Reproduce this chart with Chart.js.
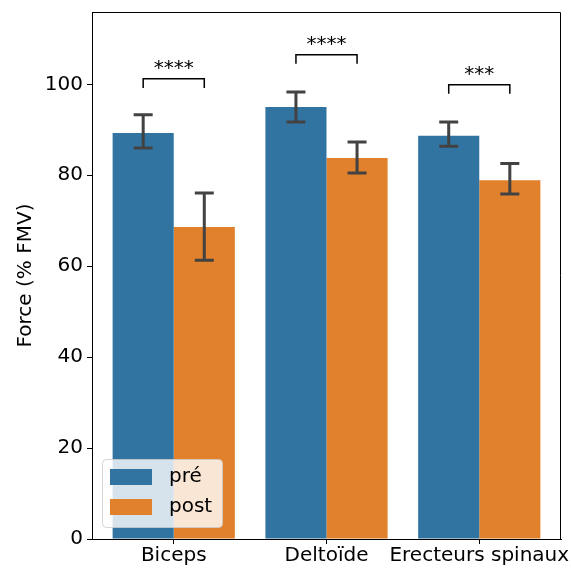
<!DOCTYPE html>
<html>
<head>
<meta charset="utf-8">
<script src="https://cdn.jsdelivr.net/npm/chart.js@4/dist/chart.umd.min.js"></script>
<style>
  body { margin: 0; background: #fff; }
  #wrap { width: 571px; height: 568px; }
</style>
</head>
<body>
<div id="wrap"><canvas id="chart" width="571" height="568"></canvas></div>
<script>
const categories = ["Biceps", "Deltoïde", "Erecteurs spinaux"];
const preMean = [89.3, 95.0, 88.7];
const preLow = [86.0, 91.7, 86.4];
const preHigh = [93.3, 98.3, 91.7];
const postMean = [68.6, 83.8, 78.9];
const postLow = [61.3, 80.5, 75.9];
const postHigh = [76.1, 87.3, 82.6];
const sigLabels = ["****", "****", "***"];
const sigY = [101.2, 106.5, 99.9];
const yTicks = [0, 20, 40, 60, 80, 100];

const FONT = "DejaVu Sans";
const BLUE = "#3274a1";
const ORANGE = "#e1812c";

// barres d'erreur, crochets de significativité, cadre et légende
const overlay = {
  id: "overlay",
  afterDatasetsDraw(chart) {
    const ctx = chart.ctx;
    const xs = chart.scales.x;
    const ys = chart.scales.y;
    const area = chart.chartArea;
    ctx.save();

    // barres d'erreur
    ctx.strokeStyle = "#424242";
    ctx.lineWidth = 3;
    [[preLow, preHigh, -0.2], [postLow, postHigh, 0.2]].forEach(([lo, hi, off]) => {
      categories.forEach((c, i) => {
        const x = xs.getPixelForValue(i + off);
        const y1 = ys.getPixelForValue(lo[i]);
        const y2 = ys.getPixelForValue(hi[i]);
        ctx.beginPath();
        ctx.moveTo(x, y1); ctx.lineTo(x, y2);
        ctx.moveTo(x - 9.5, y1); ctx.lineTo(x + 9.5, y1);
        ctx.moveTo(x - 9.5, y2); ctx.lineTo(x + 9.5, y2);
        ctx.stroke();
      });
    });

    // crochets
    ctx.strokeStyle = "#000";
    ctx.lineWidth = 1.5;
    ctx.fillStyle = "#000";
    ctx.font = "20px '" + FONT + "'";
    ctx.textAlign = "center";
    ctx.textBaseline = "alphabetic";
    categories.forEach((c, i) => {
      const xa = xs.getPixelForValue(i - 0.2);
      const xb = xs.getPixelForValue(i + 0.2);
      const yt = ys.getPixelForValue(sigY[i]);
      const yl = ys.getPixelForValue(sigY[i] - 2);
      ctx.beginPath();
      ctx.moveTo(xa, yl); ctx.lineTo(xa, yt); ctx.lineTo(xb, yt); ctx.lineTo(xb, yl);
      ctx.stroke();
      ctx.fillText(sigLabels[i], (xa + xb) / 2, yt - 5);
    });

    // cadre haut et droite
    ctx.strokeStyle = "#000";
    ctx.lineWidth = 1;
    ctx.beginPath();
    ctx.moveTo(area.left, area.top + 0.5);
    ctx.lineTo(area.right - 0.5, area.top + 0.5);
    ctx.lineTo(area.right - 0.5, area.bottom);
    ctx.stroke();

    // légende
    const lx = 102, ly = 459, lw = 120, lh = 68;
    ctx.fillStyle = "rgba(255,255,255,0.8)";
    ctx.strokeStyle = "rgba(204,204,204,0.8)";
    ctx.beginPath();
    ctx.roundRect(lx + 0.5, ly + 0.5, lw, lh, 4);
    ctx.fill();
    ctx.stroke();
    ctx.fillStyle = BLUE;
    ctx.fillRect(110, 469, 42, 16);
    ctx.fillStyle = ORANGE;
    ctx.fillRect(110, 499, 42, 16);
    ctx.fillStyle = "#000";
    ctx.textAlign = "left";
    ctx.textBaseline = "middle";
    ctx.fillText("pré", 169, 477);
    ctx.fillText("post", 169, 507);
    ctx.restore();
  }
};

new Chart(document.getElementById("chart"), {
  type: "bar",
  data: {
    datasets: [
      {
        label: "pré",
        data: preMean.map((v, i) => ({ x: i, y: v })),
        backgroundColor: BLUE,
        categoryPercentage: 0.8,
        barPercentage: 1
      },
      {
        label: "post",
        data: postMean.map((v, i) => ({ x: i, y: v })),
        backgroundColor: ORANGE,
        categoryPercentage: 0.8,
        barPercentage: 1
      }
    ]
  },
  options: {
    responsive: false,
    animation: false,
    layout: { padding: { top: 12, right: 10, left: 0, bottom: 0 } },
    plugins: { legend: { display: false }, tooltip: { enabled: false } },
    scales: {
      x: {
        type: "linear",
        offset: false,
        min: -0.535,
        max: 2.535,
        afterBuildTicks: s => { s.ticks = [0, 1, 2].map(v => ({ value: v })); },
        afterFit: s => { s.height = 29; s.paddingLeft = 0; s.paddingRight = 0; },
        ticks: {
          callback: v => categories[v],
          color: "#000",
          font: { family: FONT, size: 20 },
          padding: 0,
          maxRotation: 0,
          autoSkip: false
        },
        grid: { offset: false, drawOnChartArea: false, drawTicks: true, tickLength: 5, color: "#000" },
        border: { display: true, color: "#000", width: 1 }
      },
      y: {
        min: 0,
        max: 115.9,
        afterBuildTicks: s => { s.ticks = yTicks.map(v => ({ value: v })); },
        afterFit: s => { s.width = 92; s.paddingTop = 0; s.paddingBottom = 0; },
        ticks: {
          color: "#000",
          font: { family: FONT, size: 20 },
          padding: 4
        },
        grid: { drawOnChartArea: false, drawTicks: true, tickLength: 5, color: "#000" },
        border: { display: true, color: "#000", width: 1 },
        title: {
          display: true,
          text: "Force (% FMV)",
          color: "#000",
          font: { family: FONT, size: 20 },
          padding: { top: 14, bottom: 0 }
        }
      }
    }
  },
  plugins: [overlay]
});
</script>
</body>
</html>
